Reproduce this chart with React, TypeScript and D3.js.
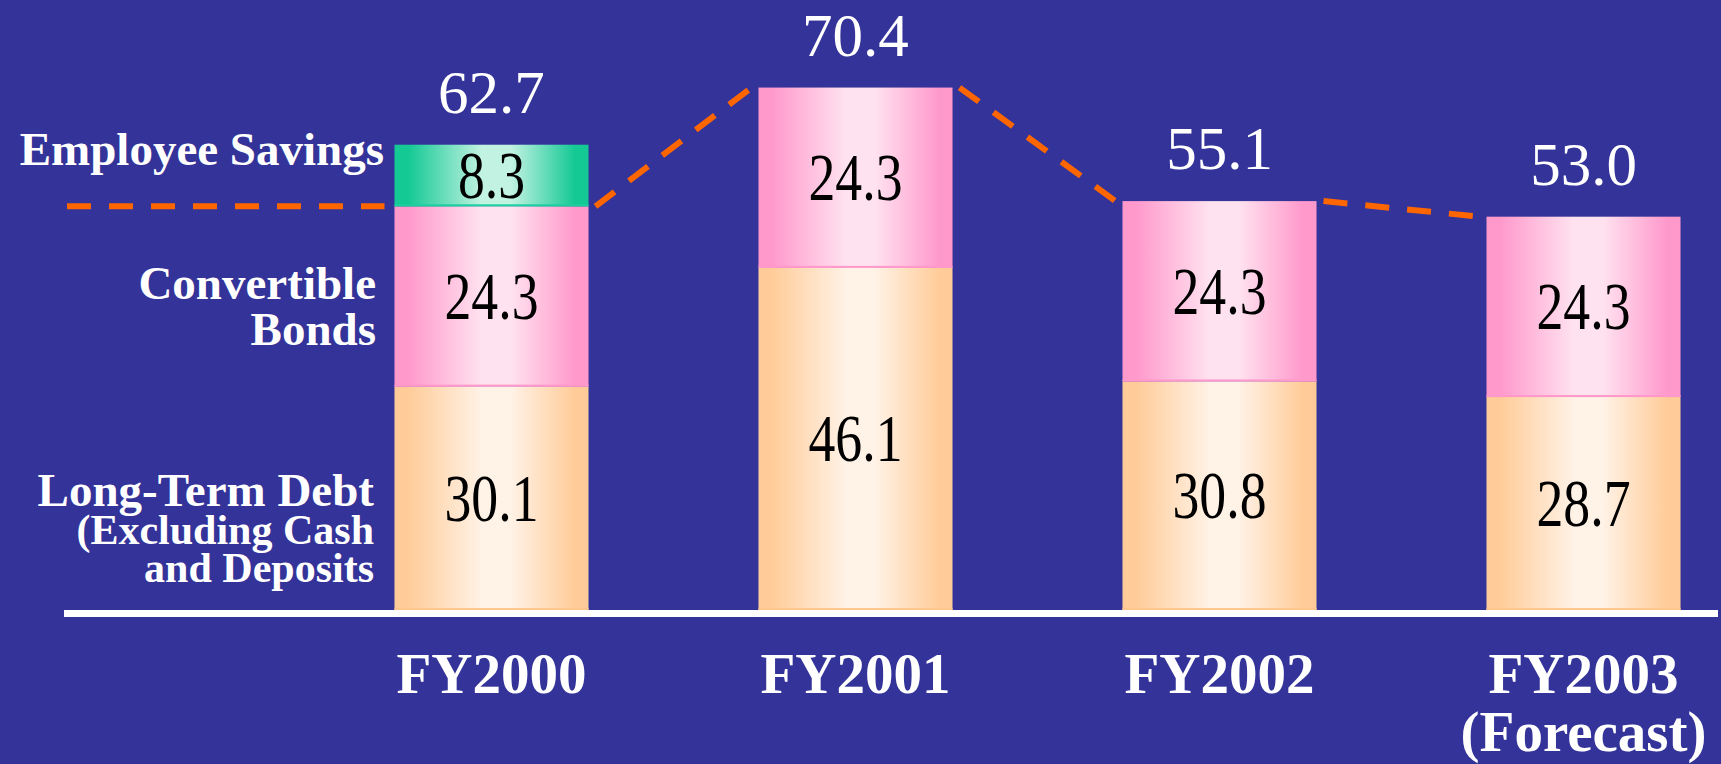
import React from 'react';
import * as d3 from 'd3';

// values (billion yen)
const categories = ['FY2000', 'FY2001', 'FY2002', 'FY2003'];
const categoryLines = [['FY2000'], ['FY2001'], ['FY2002'], ['FY2003', '(Forecast)']];
const longTermDebt = [30.1, 46.1, 30.8, 28.7];
const convertibleBonds = [24.3, 24.3, 24.3, 24.3];
const employeeSavings = [8.3, 0, 0, 0];
const totals = [62.7, 70.4, 55.1, 53.0];

const seriesKeys = ['debt', 'bonds', 'savings'];
const seriesLabels = [
  ['Long-Term Debt', '(Excluding Cash', 'and Deposits'],
  ['Convertible', 'Bonds'],
  ['Employee Savings'],
];

const W = 1721;
const H = 764;
const BASE = 610;

const palette = {
  debt: { edge: '#ffcc99', light: '#fff2e6', line: '#ffc58f' },
  bonds: { edge: '#ff99cc', light: '#ffe2ef', line: '#ff99cc' },
  savings: { edge: '#14c994', light: '#c2f2e2', line: '#1ad0a0' },
};

export default function App() {
  const rows = categories.map((c, i) => ({
    cat: c,
    debt: longTermDebt[i],
    bonds: convertibleBonds[i],
    savings: employeeSavings[i],
  }));
  const stacked = d3.stack<any>().keys(seriesKeys)(rows);

  const x = d3.scaleBand<string>()
    .domain(categories)
    .range([224.5, 1850.5])
    .padding(0.467);
  const y = d3.scaleLinear().domain([0, 82.2]).range([BASE, 0]);
  const bw = x.bandwidth();

  // dashed trend: total less employee savings
  const trend = totals.map((t, i) => +(t - employeeSavings[i]).toFixed(1));
  const gap = 7;
  const line = d3.line<[number, number]>();
  const legendPos: any = {
    savings: { y: 165, right: 384, sizes: [47] },
    bonds: { y: 299, right: 376, sizes: [47, 47], lh: 46 },
    debt: { y: 506, right: 374, sizes: [47, 42, 42], lh: 38 },
  };

  const serif = '"Liberation Serif", "Times New Roman", serif';

  return (
    <svg width={W} height={H} style={{ position: 'absolute', left: 0, top: 0 }} fontFamily={serif}>
      <defs>
        {seriesKeys.map(k => {
          const p = (palette as any)[k];
          return (
            <linearGradient key={k} id={`g-${k}`} x1="0" x2="1" y1="0" y2="0">
              <stop offset="0" stopColor={p.edge} />
              <stop offset="0.07" stopColor={p.edge} />
              <stop offset="0.45" stopColor={p.light} />
              <stop offset="0.6" stopColor={p.light} />
              <stop offset="0.93" stopColor={p.edge} />
              <stop offset="1" stopColor={p.edge} />
            </linearGradient>
          );
        })}
      </defs>
      <rect width={W} height={H} fill="#333399" />

      {/* stacked bars */}
      {stacked.map(s => (
        <g key={s.key}>
          {s.map((d, i) => {
            const v = d[1] - d[0];
            if (v <= 0) return null;
            const x0 = x(categories[i])!;
            const top = y(d[1]);
            const bottom = y(d[0]);
            const p = (palette as any)[s.key];
            return (
              <g key={i}>
                <rect x={x0} y={top} width={bw} height={bottom - top} fill={`url(#g-${s.key})`} />
                <rect x={x0} y={bottom - 2} width={bw} height={2} fill={p.line} />
                <text
                  transform={`translate(${x0 + bw / 2},${(top + bottom) / 2 + 22.5}) scale(0.79,1)`}
                  textAnchor="middle"
                  fontSize={68}
                  fill="#000"
                >
                  {v.toFixed(1)}
                </text>
              </g>
            );
          })}
        </g>
      ))}

      {/* totals */}
      {totals.map((t, i) => (
        <text
          key={i}
          x={x(categories[i])! + bw / 2}
          y={y(t) - 32}
          textAnchor="middle"
          fontSize={61}
          fill="#fff"
        >
          {t.toFixed(1)}
        </text>
      ))}

      {/* dashed trend line */}
      <g fill="none" stroke="#ff6600" strokeWidth={6} strokeDasharray="24 18">
        <path d={line([[67, y(trend[0])], [x(categories[0])! - 10, y(trend[0])]])!} />
        {trend.slice(1).map((v, i) => (
          <path
            key={i}
            d={line([
              [x(categories[i])! + bw + gap, y(trend[i])],
              [x(categories[i + 1])! - gap, y(v)],
            ])!}
          />
        ))}
      </g>

      {/* baseline */}
      <rect x={64} y={BASE} width={1654} height={7} fill="#fff" />

      {/* series labels on the left */}
      {seriesKeys.map((k, si) => {
        const lp = legendPos[k];
        return (
          <text key={k} fill="#fff" fontWeight="bold" textAnchor="end">
            {seriesLabels[si].map((ln, j) => (
              <tspan key={j} x={lp.right} y={lp.y + j * (lp.lh || 0)} fontSize={lp.sizes[j]}>
                {ln}
              </tspan>
            ))}
          </text>
        );
      })}

      {/* category labels */}
      {categoryLines.map((lines, i) => (
        <text key={i} fill="#fff" fontWeight="bold" textAnchor="middle" fontSize={57}>
          {lines.map((ln, j) => (
            <tspan key={j} x={x(categories[i])! + bw / 2} y={693 + j * 58}>
              {ln}
            </tspan>
          ))}
        </text>
      ))}
    </svg>
  );
}
